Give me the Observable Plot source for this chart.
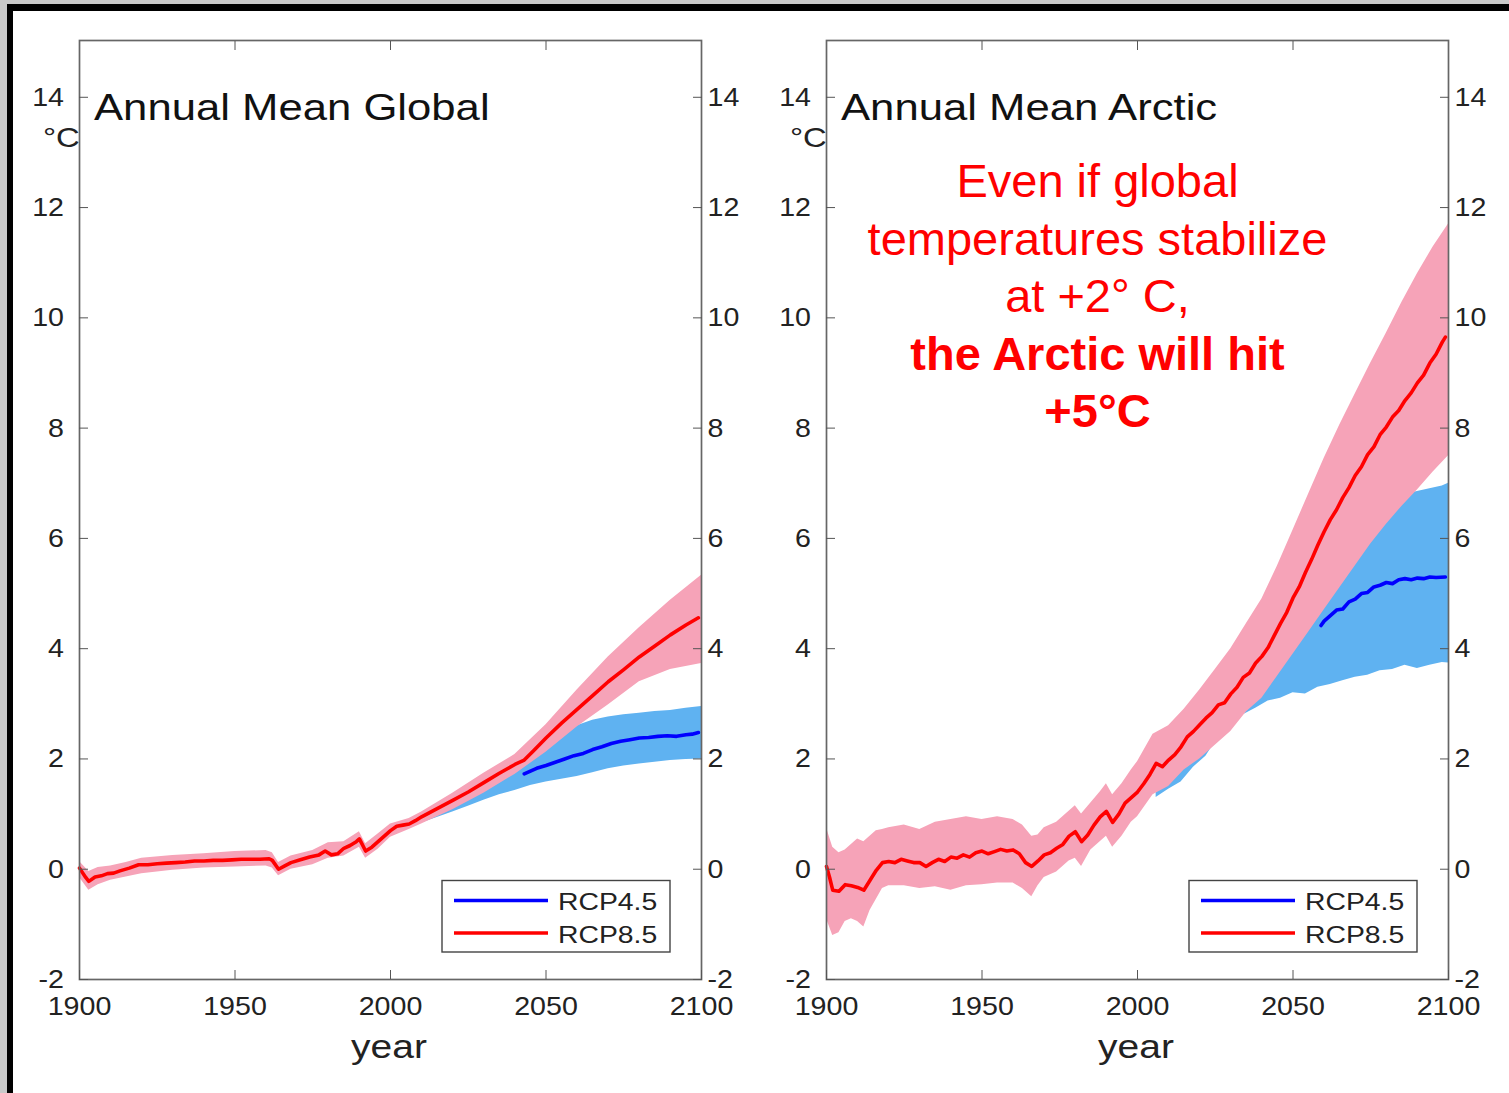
<!DOCTYPE html>
<html>
<head>
<meta charset="utf-8">
<script src="https://cdn.jsdelivr.net/npm/d3@7"></script>
<script src="https://cdn.jsdelivr.net/npm/@observablehq/plot@0.6"></script>
<style>
  body { margin: 0; background: #fff; }
  #wrap { position: relative; width: 1509px; height: 1093px; overflow: hidden; background: #fff;
          font-family: "Liberation Sans", Arial, Helvetica, sans-serif; }
  #wrap > svg, #wrap > .edge { position: absolute; }
  .edge { display: block; }
</style>
</head>
<body>
<div id="wrap"></div>
<script>
// ---------------- tick labels, categories, texts ----------------
const xTicks = [1900, 1950, 2000, 2050, 2100];
const xTopTicks = [1950, 2000, 2050];
const yTicks = [-2, 0, 2, 4, 6, 8, 10, 12, 14];
const seriesNames = ["RCP4.5", "RCP8.5"];
const panelTitles = ["Annual Mean Global", "Annual Mean Arctic"];
const yUnit = "°C";
const xLabel = "year";
const annotationLines = ["Even if global", "temperatures stabilize", "at +2° C,", "the Arctic will hit", "+5°C"];
const annotationBold = [false, false, false, true, true];

// ---------------- Annual Mean Global ----------------
const globalRedYears = [1900,1902,1903,1905,1907,1909,1911,1913,1916,1919,1922,1925,1928,1931,1934,1937,1940,1943,1946,1949,1952,1955,1958,1961,1962,1964,1966,1968,1971,1974,1977,1979,1981,1983,1985,1987,1989,1990,1992,1994,1996,1998,2000,2002,2004,2006,2008,2010,2015,2020,2025,2030,2035,2040,2043,2046,2050,2055,2060,2065,2070,2075,2080,2085,2090,2095,2099];
const globalRedValues = [0.02,-0.15,-0.22,-0.14,-0.12,-0.08,-0.07,-0.03,0.02,0.08,0.08,0.10,0.11,0.12,0.13,0.15,0.15,0.16,0.16,0.17,0.18,0.18,0.18,0.19,0.16,0.0,0.06,0.12,0.17,0.22,0.26,0.33,0.26,0.28,0.38,0.43,0.50,0.55,0.33,0.40,0.50,0.60,0.70,0.78,0.80,0.82,0.88,0.95,1.10,1.25,1.40,1.57,1.74,1.90,1.98,2.15,2.38,2.65,2.90,3.15,3.40,3.62,3.85,4.05,4.25,4.43,4.56];

const globalRedBandYears = [1900,1903,1906,1910,1915,1920,1930,1940,1950,1960,1962,1964,1968,1975,1980,1985,1990,1992,1996,2000,2006,2010,2020,2030,2040,2050,2060,2070,2080,2090,2100];
const globalRedBandLow  = [-0.15,-0.38,-0.28,-0.20,-0.14,-0.08,-0.02,0.02,0.04,0.06,0.02,-0.12,0.0,0.08,0.20,0.24,0.40,0.20,0.36,0.58,0.72,0.82,1.08,1.38,1.72,2.12,2.58,2.98,3.40,3.62,3.73];
const globalRedBandHigh = [0.14,-0.04,0.03,0.06,0.12,0.20,0.25,0.28,0.32,0.34,0.30,0.12,0.24,0.34,0.48,0.50,0.68,0.46,0.64,0.82,0.92,1.04,1.38,1.74,2.08,2.62,3.25,3.85,4.38,4.88,5.33];

const globalBlueBandYears = [2006,2010,2015,2020,2025,2030,2035,2040,2045,2050,2055,2060,2065,2070,2075,2080,2085,2090,2095,2100];
const globalBlueBandLow  = [0.74,0.84,0.94,1.04,1.14,1.25,1.35,1.43,1.52,1.58,1.63,1.68,1.75,1.82,1.87,1.91,1.94,1.97,1.99,2.00];
const globalBlueBandHigh = [0.86,0.98,1.10,1.22,1.36,1.50,1.65,1.82,2.02,2.25,2.45,2.60,2.70,2.76,2.80,2.83,2.86,2.88,2.92,2.95];

const globalBlueYears  = [2043,2045,2047,2050,2053,2056,2059,2062,2065,2068,2071,2074,2077,2080,2083,2086,2089,2092,2095,2097,2099];
const globalBlueValues = [1.73,1.78,1.83,1.88,1.94,2.00,2.06,2.10,2.17,2.22,2.28,2.32,2.35,2.38,2.39,2.41,2.42,2.41,2.44,2.45,2.48];

// ---------------- Annual Mean Arctic ----------------
const arcticRedYears = [1900,1901,1902,1904,1906,1908,1910,1912,1914,1916,1918,1920,1922,1924,1926,1928,1930,1932,1934,1936,1938,1940,1942,1944,1946,1948,1950,1952,1954,1956,1958,1960,1962,1964,1966,1968,1970,1972,1974,1976,1978,1980,1982,1984,1986,1988,1990,1992,1994,1996,1998,2000,2002,2004,2006,2008,2010,2012,2014,2016,2018,2020,2022,2024,2026,2028,2030,2032,2034,2036,2038,2040,2042,2044,2046,2048,2050,2052,2054,2056,2058,2060,2062,2064,2066,2068,2070,2072,2074,2076,2078,2080,2082,2084,2086,2088,2090,2092,2094,2096,2098,2099];
const arcticRedValues = [0.05,-0.15,-0.38,-0.40,-0.28,-0.30,-0.33,-0.38,-0.20,-0.02,0.12,0.14,0.12,0.18,0.15,0.12,0.12,0.05,0.12,0.18,0.14,0.22,0.20,0.26,0.22,0.30,0.33,0.28,0.32,0.36,0.33,0.35,0.28,0.12,0.05,0.15,0.26,0.30,0.38,0.45,0.60,0.68,0.50,0.62,0.80,0.95,1.05,0.85,1.00,1.20,1.30,1.40,1.55,1.72,1.92,1.86,1.98,2.08,2.22,2.40,2.50,2.62,2.74,2.84,2.98,3.02,3.18,3.30,3.48,3.56,3.74,3.86,4.02,4.24,4.46,4.66,4.92,5.12,5.38,5.62,5.88,6.12,6.34,6.52,6.74,6.92,7.14,7.30,7.52,7.66,7.88,8.02,8.20,8.32,8.50,8.64,8.82,8.96,9.18,9.34,9.56,9.65];

const arcticRedBandYears = [1900,1902,1904,1906,1908,1910,1912,1914,1916,1918,1920,1925,1930,1935,1940,1945,1950,1955,1960,1963,1966,1968,1970,1974,1978,1980,1982,1985,1988,1990,1992,1995,1998,2000,2005,2010,2015,2020,2025,2030,2035,2040,2045,2050,2055,2060,2065,2070,2075,2080,2085,2090,2095,2100];
const arcticRedBandLow  = [-0.90,-1.20,-1.15,-0.95,-0.90,-0.95,-1.05,-0.75,-0.55,-0.35,-0.30,-0.30,-0.35,-0.32,-0.38,-0.30,-0.28,-0.25,-0.25,-0.35,-0.50,-0.30,-0.15,-0.05,0.15,0.20,0.05,0.35,0.50,0.60,0.40,0.60,0.85,0.95,1.35,1.50,1.80,2.00,2.25,2.50,2.85,3.10,3.50,3.90,4.30,4.70,5.10,5.50,5.90,6.25,6.58,6.88,7.20,7.50];
const arcticRedBandHigh = [0.75,0.40,0.30,0.35,0.45,0.55,0.50,0.60,0.70,0.72,0.75,0.80,0.72,0.85,0.90,0.95,0.90,0.95,0.90,0.80,0.60,0.62,0.75,0.85,1.05,1.15,1.00,1.20,1.40,1.55,1.35,1.55,1.80,1.95,2.45,2.60,2.90,3.25,3.62,4.00,4.45,4.90,5.50,6.15,6.80,7.45,8.05,8.62,9.18,9.72,10.28,10.80,11.28,11.70];

const arcticBlueBandYears = [2006,2010,2014,2018,2022,2026,2030,2034,2038,2042,2046,2050,2054,2058,2062,2066,2070,2074,2078,2082,2086,2090,2094,2098,2100];
const arcticBlueBandLow  = [1.30,1.45,1.58,1.85,2.05,2.40,2.60,2.80,2.92,3.05,3.10,3.20,3.18,3.30,3.35,3.42,3.48,3.52,3.60,3.62,3.70,3.64,3.70,3.75,3.74];
const arcticBlueBandHigh = [2.30,2.50,2.70,2.95,3.20,3.50,3.80,4.10,4.40,4.70,5.00,5.30,5.55,5.80,6.00,6.20,6.35,6.50,6.60,6.75,6.80,6.85,6.90,6.95,7.00];

const arcticBlueYears  = [2059,2060,2062,2064,2066,2068,2070,2072,2074,2076,2078,2080,2082,2084,2086,2088,2090,2092,2094,2096,2099];
const arcticBlueValues = [4.42,4.50,4.60,4.70,4.72,4.85,4.90,5.00,5.02,5.12,5.15,5.20,5.18,5.25,5.27,5.25,5.28,5.27,5.30,5.29,5.30];

// ---------------- helpers ----------------
const pts = (xs, ys) => xs.map((x, i) => ({year: x, value: ys[i]}));
const band = (xs, lo, hi) => xs.map((x, i) => ({year: x, low: lo[i], high: hi[i]}));

const panels = [
  {title: panelTitles[0], left: 0,
   red: pts(globalRedYears, globalRedValues), redBand: band(globalRedBandYears, globalRedBandLow, globalRedBandHigh),
   blue: pts(globalBlueYears, globalBlueValues), blueBand: band(globalBlueBandYears, globalBlueBandLow, globalBlueBandHigh)},
  {title: panelTitles[1], left: 747,
   red: pts(arcticRedYears, arcticRedValues), redBand: band(arcticRedBandYears, arcticRedBandLow, arcticRedBandHigh),
   blue: pts(arcticBlueYears, arcticBlueValues), blueBand: band(arcticBlueBandYears, arcticBlueBandLow, arcticBlueBandHigh)}
];

const wrap = document.getElementById("wrap");
const FONT = "'Liberation Sans', Arial, Helvetica, sans-serif";
const STRETCH = 1.08;   // the original bitmap is stretched horizontally

// page edges (grey strip + black border)
[["0px","0px","7px","1093px","#c9c9c9"],["0px","0px","1509px","4px","#c9c9c9"],
 ["7px","4px","6px","1089px","#000"],["7px","4px","1502px","7px","#000"]].forEach(([l,t,w,h,c]) => {
  const d = document.createElement("div");
  d.className = "edge";
  Object.assign(d.style, {left:l, top:t, width:w, height:h, background:c});
  wrap.appendChild(d);
});

const fmt = d => String(d);

panels.forEach(p => {
  const svg = Plot.plot({
    width: 750, height: 1093,
    marginLeft: 79, marginRight: 49, marginTop: 40, marginBottom: 114,
    x: {domain: [1900, 2100]},
    y: {domain: [-2, 15.03]},
    style: {background: "transparent", fontFamily: FONT, fontSize: "26.5px", color: "#222", overflow: "visible"},
    marks: [
      Plot.areaY(p.blueBand, {x: "year", y1: "low", y2: "high", fill: "#5fb2f1"}),
      Plot.areaY(p.redBand, {x: "year", y1: "low", y2: "high", fill: "#f6a3b8"}),
      Plot.lineY(p.red, {x: "year", y: "value", stroke: "#ff0000", strokeWidth: 3.6, strokeLinejoin: "round"}),
      Plot.lineY(p.blue, {x: "year", y: "value", stroke: "#0000ff", strokeWidth: 3.6, strokeLinejoin: "round"}),
      Plot.frame({stroke: "#666", strokeWidth: 1.7}),
      Plot.axisY(yTicks, {anchor: "left", tickSize: -9, tickPadding: 24.5, label: null, tickFormat: fmt, stroke: "#555"}),
      Plot.axisY(yTicks, {anchor: "right", tickSize: -9, tickPadding: 15, label: null, tickFormat: fmt, stroke: "#555"}),
      Plot.axisX(xTicks, {anchor: "bottom", tickSize: -9, tickPadding: 26, label: null, tickFormat: fmt, stroke: "#555"}),
      Plot.axisX(xTopTicks, {anchor: "top", tickSize: -9, label: null, tickFormat: () => "", stroke: "#555"})
    ]
  });
  svg.style.position = "absolute";
  svg.style.left = p.left + "px";
  svg.style.top = "0px";
  wrap.appendChild(svg);
  svg.querySelectorAll('g[aria-label$="tick label"] text').forEach(t => {
    const w = t.getComputedTextLength();
    if (w > 0) { t.setAttribute("textLength", (w * STRETCH).toFixed(1)); t.setAttribute("lengthAdjust", "spacingAndGlyphs"); }
  });
});

// ---------------- overlay texts & legends ----------------
const ov = d3.select(wrap).append("svg")
  .attr("width", 1509).attr("height", 1093)
  .style("left", "0px").style("top", "0px")
  .style("font-family", FONT);

function stretched(sel, factor) {
  sel.each(function() {
    const w = this.getComputedTextLength();
    this.setAttribute("textLength", (w * factor).toFixed(1));
    this.setAttribute("lengthAdjust", "spacingAndGlyphs");
  });
  return sel;
}

panels.forEach((p, i) => {
  const o = p.left; // offset of panel
  stretched(ov.append("text").attr("x", o + 94).attr("y", 120).attr("font-size", 37).attr("fill", "#111").text(p.title), 1.18);
  stretched(ov.append("text").attr("x", o + 43).attr("y", 147).attr("font-size", 28).attr("fill", "#222").text(yUnit), 1.17);
  stretched(ov.append("text").attr("x", o + 389).attr("y", 1058).attr("text-anchor", "middle").attr("font-size", 33).attr("fill", "#222").text(xLabel), 1.18);

  // legend
  const g = ov.append("g");
  g.append("rect").attr("x", o + 442).attr("y", 880.5).attr("width", 228).attr("height", 71.5)
    .attr("fill", "#fff").attr("stroke", "#444").attr("stroke-width", 1.4);
  const colors = ["#0000ff", "#ff0000"];
  seriesNames.forEach((name, k) => {
    const yy = 900.5 + k * 32.5;
    g.append("line").attr("x1", o + 454).attr("x2", o + 548).attr("y1", yy).attr("y2", yy)
      .attr("stroke", colors[k]).attr("stroke-width", 3.6);
    stretched(g.append("text").attr("x", o + 558).attr("y", yy + 9.5).attr("font-size", 24).attr("fill", "#222").text(name), 1.18);
  });
});

// annotation in the Arctic panel
annotationLines.forEach((line, k) => {
  ov.append("text")
    .attr("x", 1097.5).attr("y", 197 + k * 57.5)
    .attr("text-anchor", "middle")
    .attr("font-size", 47)
    .attr("font-weight", annotationBold[k] ? "bold" : "normal")
    .attr("fill", "#ff0000")
    .text(line);
});
</script>
</body>
</html>
